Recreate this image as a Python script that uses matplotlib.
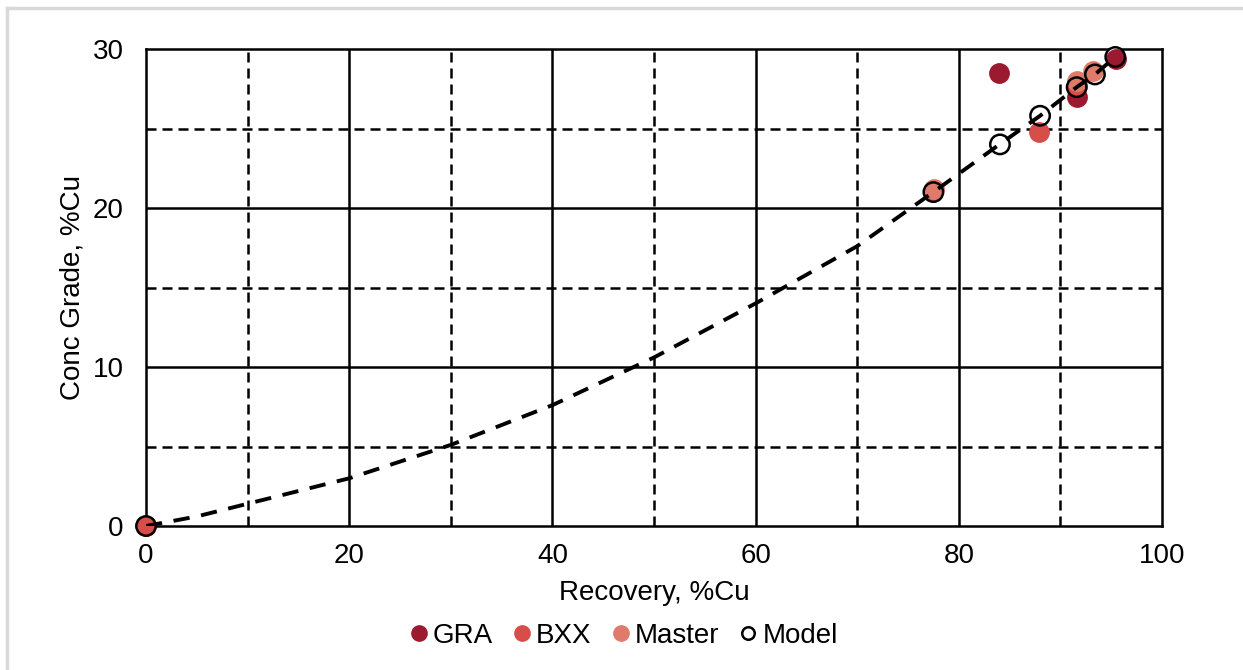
import numpy as np
import matplotlib
matplotlib.use("Agg")
import matplotlib.pyplot as plt
from matplotlib.lines import Line2D

plt.rcParams["font.family"] = ["Liberation Sans", "DejaVu Sans"]

# values
gra_x = [84.0, 91.6, 95.5]
gra_y = [28.5, 27.0, 29.35]

bxx_x = [0.0, 77.5, 87.9, 91.6]
bxx_y = [0.0, 21.1, 24.8, 27.7]

master_x = [77.6, 91.6, 93.2]
master_y = [21.2, 28.0, 28.6]

model_x = [0.0, 77.5, 84.05, 88.0, 91.6, 93.4, 95.4]
model_y = [0.0, 21.0, 24.0, 25.8, 27.6, 28.4, 29.5]

curve_x = [0, 5, 10, 20, 30, 40, 50, 60, 70, 77.5, 84, 88, 91.6, 93.4, 95.4]
curve_y = [0, 0.6, 1.4, 3.0, 5.1, 7.6, 10.6, 14.0, 17.6, 21.0, 24.0, 25.8, 27.6, 28.4, 29.5]

c_gra = "#9b1a30"
c_bxx = "#d74d4a"
c_master = "#e07b6b"

FS = 20


def main():
    fig = plt.figure(figsize=(12.43, 6.70), dpi=100)
    ax = fig.add_axes([146 / 1243, 1 - 526 / 670, (1162 - 146) / 1243, (526 - 49) / 670])

    # grid: solid major, dashed minor
    dash = (0, (4.0, 2.4))
    for gx in range(20, 100, 20):
        ax.axvline(gx, color="black", lw=1.8, zorder=1)
    for gx in range(10, 100, 20):
        ax.axvline(gx, color="black", lw=1.8, ls=dash, zorder=1)
    for gy in [10, 20]:
        ax.axhline(gy, color="black", lw=1.8, zorder=1)
    for gy in [5, 15, 25]:
        ax.axhline(gy, color="black", lw=1.8, ls=dash, zorder=1)

    ms = 195
    # white body of the model circles, then the coloured points, then the rings
    ax.scatter(model_x, model_y, s=ms, facecolor="white", edgecolor="none",
               zorder=3, clip_on=False)
    ax.scatter(gra_x, gra_y, s=ms, color=c_gra, zorder=4, clip_on=False)
    ax.scatter(bxx_x, bxx_y, s=ms, color=c_bxx, zorder=4, clip_on=False)
    ax.scatter(master_x, master_y, s=ms, color=c_master, zorder=4, clip_on=False)
    ax.scatter(model_x, model_y, s=ms, facecolor="none", edgecolor="black",
               linewidth=1.8, zorder=5, clip_on=False)
    ax.plot(curve_x, curve_y, color="black", lw=2.8, ls=(0, (4.2, 3.0)), zorder=6)

    ax.set_xlim(0, 100)
    ax.set_ylim(0, 30)
    ax.set_xticks(range(0, 101, 20))
    ax.set_yticks([0, 10, 20, 30])
    ax.tick_params(axis="y", length=0, labelsize=FS, pad=16)
    ax.tick_params(axis="x", length=0, labelsize=FS, pad=12)
    for sp in ax.spines.values():
        sp.set_linewidth(1.8)
        sp.set_color("black")
        sp.set_zorder(2)

    ax.set_xlabel("Recovery, %Cu", fontsize=FS, labelpad=8)
    ax.set_ylabel("Conc Grade, %Cu", fontsize=FS, labelpad=5)

    handles = [
        Line2D([], [], marker="o", ls="none", color=c_gra, markersize=11),
        Line2D([], [], marker="o", ls="none", color=c_bxx, markersize=11),
        Line2D([], [], marker="o", ls="none", color=c_master, markersize=11),
        Line2D([], [], marker="o", ls="none", markerfacecolor="white",
               markeredgecolor="black", markeredgewidth=1.8, markersize=9),
    ]
    fig.legend(handles, ["GRA", "BXX", "Master", "Model"], loc="center",
               bbox_to_anchor=(0.5, 1 - 636 / 670), ncol=4, frameon=False,
               fontsize=FS, handletextpad=0.0, columnspacing=0.55,
               handlelength=1.0)

    # light gray border on top and left, like the screenshot
    fig.add_artist(Line2D([7 / 1243, 1], [1 - 8 / 670, 1 - 8 / 670],
                          color="#d9d9d9", lw=2.5, transform=fig.transFigure))
    fig.add_artist(Line2D([7 / 1243, 7 / 1243], [0, 1 - 8 / 670],
                          color="#d9d9d9", lw=2.5, transform=fig.transFigure))

    fig.savefig("out.png", dpi=100)
    plt.close(fig)


if __name__ == "__main__":
    main()
